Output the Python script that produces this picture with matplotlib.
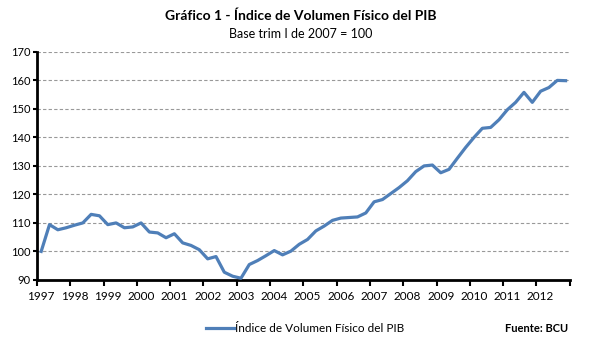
import numpy as np
import matplotlib.pyplot as plt

plt.rcParams['font.family'] = ['Lato', 'DejaVu Sans']

# quarterly index, 1997 Q1 .. 2012 Q4
pib = [100.0, 109.4, 107.6, 108.3, 109.2, 110.0, 113.0, 112.5,
       109.4, 110.0, 108.3, 108.6, 110.0, 106.8, 106.5, 104.8,
       106.2, 103.0, 102.1, 100.6, 97.4, 98.2, 92.7, 91.3,
       90.6, 95.4, 96.8, 98.5, 100.3, 98.8, 100.1, 102.5,
       104.2, 107.2, 108.9, 110.9, 111.7, 111.9, 112.1, 113.5,
       117.4, 118.2, 120.3, 122.4, 124.8, 128.0, 130.0, 130.3,
       127.6, 128.8, 132.7, 136.5, 140.0, 143.2, 143.5, 146.2,
       149.7, 152.3, 155.8, 152.3, 156.2, 157.5, 160.0, 159.9]
years = list(range(1997, 2013))
y_ticks = list(range(90, 171, 10))

x = np.arange(len(pib))

fig = plt.figure(figsize=(6.01, 3.53), dpi=100)
ax = fig.add_axes([0.0616, 0.207, 0.8864, 0.646])

ax.plot(x, pib, color='#4F7FB8', linewidth=2.3, solid_joinstyle='round',
        label='Índice de Volumen Físico del PIB', zorder=3)

ax.set_xlim(-0.5, len(pib) - 0.5)
ax.set_ylim(90, 170)
ax.set_yticks(y_ticks)
ax.tick_params(axis='y', labelsize=8, length=3, width=1.5, pad=2)

# ticks between categories, labels on first quarter of each year
ax.set_xticks(np.arange(-0.5, len(pib), 4))
ax.set_xticklabels([])
ax.set_xticks(np.arange(0, len(pib), 4), minor=True)
ax.set_xticklabels([str(y) for y in years], minor=True)
ax.tick_params(axis='x', which='major', length=4, width=1.5)
ax.tick_params(axis='x', which='minor', length=0, labelsize=8.5, pad=8)

ax.grid(axis='y', color='#999999', linestyle=(0, (3, 2)), linewidth=0.8)
ax.set_axisbelow(True)
for s in ['top', 'right']:
    ax.spines[s].set_visible(False)
for s in ['left', 'bottom']:
    ax.spines[s].set_linewidth(2)
    ax.spines[s].set_color('black')

fig.text(0.5, 0.955, 'Gráfico 1 - Índice de Volumen Físico del PIB',
         ha='center', va='center', fontsize=10, fontweight='bold')
fig.text(0.5, 0.905, 'Base trim I de 2007 = 100', ha='center', va='center',
         fontsize=9)

fig.legend(loc='center', bbox_to_anchor=(0.508, 0.068), frameon=False,
           fontsize=8.5, handlelength=2.4, handletextpad=0.1)
fig.text(0.946, 0.068, 'Fuente: BCU', ha='right', va='center', fontsize=8,
         fontweight='bold')

fig.savefig('out.png', dpi=100)
